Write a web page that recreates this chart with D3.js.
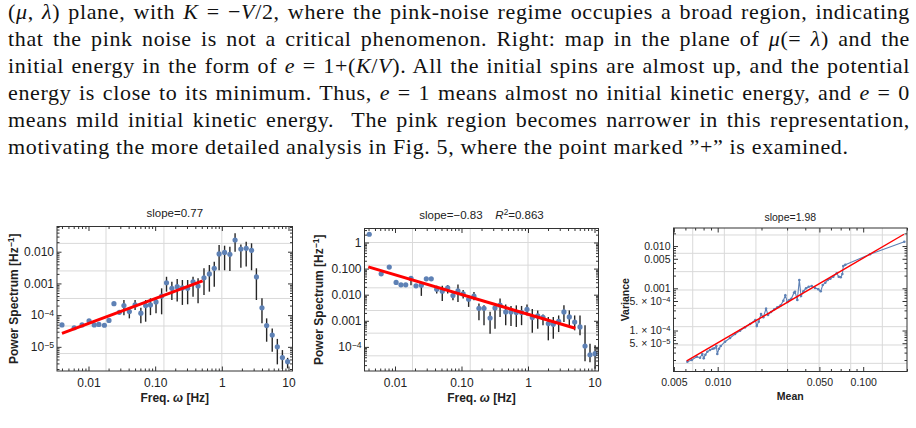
<!DOCTYPE html>
<html>
<head>
<meta charset="utf-8">
<script src="https://cdn.jsdelivr.net/npm/d3@7"></script>
<style>
  body { margin: 0; background: #fff; }
  svg { display: block; }
</style>
</head>
<body>
<svg id="drawing_region"></svg>
<script>
// ---------- caption text (italic parts flagged with 1) ----------
const paraLines = [
  [["(",0],["μ",1],[", ",0],["λ",1],[") plane, with ",0],["K",1],[" = −",0],["V",1],["/2, where the pink-noise regime occupies a broad region, indicating",0]],
  [["that the pink noise is not a critical phenomenon. Right: map in the plane of ",0],["μ",1],["(= ",0],["λ",1],[") and the",0]],
  [["initial energy in the form of ",0],["e",1],[" = 1+(",0],["K",1],["/",0],["V",1],["). All the initial spins are almost up, and the potential",0]],
  [["energy is close to its minimum. Thus, ",0],["e",1],[" = 1 means almost no initial kinetic energy, and ",0],["e",1],[" = 0",0]],
  [["means mild initial kinetic energy.  The pink region becomes narrower in this representation,",0]],
  [["motivating the more detailed analysis in Fig. 5, where the point marked ”+” is examined.",0]]
];

// ---------- left panel: power spectrum, slope 0.77 ----------
const freqA = [0.0040,0.0061,0.0080,0.0102,0.0122,0.0143,0.0173,0.0203,0.0241,0.0290,
  0.0340,0.0410,0.0500,0.0610,0.0720,0.0850,0.1030,0.1250,0.1480,0.1780,
  0.2140,0.2560,0.3070,0.3700,0.4400,0.5400,0.6500,0.7700,0.9100,1.100,
  1.320,1.580,1.930,2.320,2.790,3.300,4.000,4.700,5.700,6.800,8.100,9.700];
const powA = [4.9e-5,4.0e-5,4.9e-5,6.6e-5,4.9e-5,5.1e-5,4.8e-5,6.8e-5,2.3e-4,1.23e-4,
  2.0e-4,1.29e-4,2.1e-4,1.15e-4,2.0e-4,2.1e-4,2.6e-4,4.0e-4,1.05e-3,7.0e-4,
  7.9e-4,7.2e-4,7.0e-4,1.13e-3,8.3e-4,1.5e-3,2.0e-3,3.0e-3,8.5e-3,9.5e-3,
  8.3e-3,2.34e-2,1.22e-2,1.28e-2,1.11e-2,1.6e-3,1.7e-4,4.7e-5,2.35e-5,1.0e-5,4.6e-6,3.4e-6];
const loA = [null,null,null,null,null,null,null,null,null,null,
  1.0e-4,7.9e-5,1.45e-4,5.5e-5,6.2e-5,1.0e-4,1.15e-4,1.06e-4,5.5e-4,3.0e-4,
  2.7e-4,2.1e-4,2.2e-4,3.8e-4,2.35e-4,4.3e-4,5.5e-4,7.9e-4,2.6e-3,2.6e-3,
  2.45e-3,1.0e-2,3.1e-3,3.4e-3,2.6e-3,3.0e-4,5.5e-5,1.45e-5,7.0e-6,2.8e-6,2.0e-6,2.1e-6];
const hiA = [null,null,null,null,null,null,null,null,null,null,
  3.0e-4,1.67e-4,3.0e-4,1.7e-4,3.0e-4,3.4e-4,3.3e-4,7.0e-4,1.62e-3,1.13e-3,
  1.38e-3,1.28e-3,1.28e-3,1.62e-3,1.45e-3,3.0e-3,3.8e-3,4.8e-3,1.63e-2,1.55e-2,
  1.44e-2,3.8e-2,1.7e-2,2.07e-2,1.84e-2,3.0e-3,3.4e-4,7.9e-5,3.8e-5,1.78e-5,7.9e-6,4.5e-6];
const fitAx = [0.0040, 0.515];
const fitAy = [2.67e-5, 1.2e-3];

// ---------- middle panel: power spectrum, slope -0.83 ----------
const freqB = [0.0041,0.0062,0.0082,0.0104,0.0123,0.0145,0.0174,0.0207,0.0249,0.0296,
  0.0351,0.0424,0.0514,0.062,0.0744,0.0885,0.106,0.128,0.154,0.183,
  0.218,0.269,0.319,0.38,0.462,0.555,0.667,0.80,0.966,1.16,
  1.40,1.68,2.02,2.40,2.89,3.47,4.18,5.03,6.05,7.2,8.55,10.2];
const powB = [2.07,0.063,0.114,0.0294,0.0238,0.0238,0.042,0.0218,0.0232,0.0405,
  0.0405,0.0163,0.0136,0.0183,0.0093,0.014,0.0107,0.0067,0.00875,0.0030,
  0.0030,0.00128,0.0031,0.00395,0.00218,0.00218,0.00207,0.00207,0.00277,0.00133,
  0.00153,0.00136,7.8e-4,7.3e-4,9.6e-4,0.00218,0.0014,9.0e-4,5.8e-4,1.07e-4,5.0e-5,5.5e-5];
const loB = [null,null,null,null,null,null,0.023,null,0.009,null,
  null,0.0111,0.00578,0.0111,0.0061,0.00528,0.00714,0.0034,0.0061,0.00105,
  6.8e-4,3.2e-4,5.0e-4,0.0014,6.8e-4,6.3e-4,5.8e-4,6.8e-4,0.0016,3.5e-4,
  5.0e-4,6.8e-4,1.78e-4,2.07e-4,3.7e-4,9.0e-4,6.8e-4,4.3e-4,2.8e-4,2.8e-5,2.6e-5,1.45e-5];
const hiB = [null,null,null,null,null,null,0.0515,null,0.0232,null,
  null,0.0218,0.0218,0.0232,0.0128,0.0247,0.015,0.0096,0.0128,0.0046,
  0.0039,0.0022,0.0046,0.0071,0.0042,0.0037,0.0039,0.0037,0.0042,0.0028,
  0.0025,0.00173,0.0014,0.0014,0.0016,0.0039,0.0025,0.0016,0.0016,6.8e-4,1.32e-4,1.15e-4];
const fitBx = [0.00397, 5.14];
const fitBy = [0.117, 5.15e-4];

// ---------- right panel: variance vs mean, slope 1.98 ----------
const meanC = [0.00619,0.00663,0.00718,0.00756,0.00784,0.00802,0.00823,0.00849,0.00886,0.00924,
  0.00949,0.00979,0.00994,0.01021,0.01049,0.01123,0.01216,0.01316,0.01424,0.01542,
  0.0167,0.01815,0.01856,0.01914,0.01986,0.0206,0.0215,0.02217,0.02326,0.0245,
  0.0257,0.0271,0.02826,0.02916,0.0301,0.03106,0.03207,0.03347,0.034,0.03526,
  0.0364,0.0374,0.03878,0.04047,0.04222,0.04429,0.04666,0.04915,0.05105,0.0527,
  0.0549,0.05704,0.05943,0.0623,0.0658,0.0679,0.0701,0.0719,0.073,0.0754,0.1114,0.1917];
const varC = [1.83e-5,2.0e-5,2.40e-5,2.27e-5,2.78e-5,2.20e-5,2.67e-5,3.15e-5,3.46e-5,3.71e-5,
  3.79e-5,4.30e-5,2.78e-5,3.71e-5,4.30e-5,5.43e-5,6.65e-5,8.27e-5,9.90e-5,1.19e-4,
  1.43e-4,1.77e-4,1.28e-4,1.62e-4,2.46e-4,2.06e-4,3.29e-4,2.33e-4,2.75e-4,3.18e-4,
  3.55e-4,3.96e-4,5.08e-4,6.83e-4,4.74e-4,5.28e-4,5.67e-4,7.87e-4,8.31e-4,5.28e-4,
  1.574e-3,6.58e-4,8.49e-4,1.0e-3,1.09e-3,1.13e-3,1.02e-3,9.47e-4,8.49e-4,1.198e-3,
  1.358e-3,1.574e-3,1.689e-3,1.884e-3,2.268e-3,1.884e-3,1.824e-3,2.183e-3,3.377e-3,3.625e-3,6.40e-3,1.271e-2];
const fitCx = [0.00613, 0.1907];
const fitCy = [1.9e-5, 0.01905];

// ---------- ticks and labels ----------
const ticksAx = [0.01, 0.1, 1, 10];
const labelsAx = ['0.01', '0.10', '1', '10'];
const ticksAy = [0.01, 0.001, 1e-4, 1e-5];
const labelsAy = ['0.010', '0.001', '10^−4', '10^−5'];
const ticksBy = [1, 0.1, 0.01, 0.001, 1e-4];
const labelsBy = ['1', '0.100', '0.010', '0.001', '10^−4'];
const ticksCx = [0.005, 0.01, 0.05, 0.1];
const labelsCx = ['0.005', '0.010', '0.050', '0.100'];
const ticksCy = [0.01, 0.005, 0.001, 5e-4, 1e-4, 5e-5];
const labelsCy = ['0.010', '0.005', '0.001', '5. × 10^−4', '1. × 10^−4', '5. × 10^−5'];

// grid lines sit at powers of e (exponents)
const gridAx = [-4, -2, 0];
const gridAy = [-12, -10, -8, -6, -4];
const gridBx = [-4, -2, 0];
const gridBy = [-10, -8, -6, -4, -2, 0];
const gridCx = [-5, -4.5, -4, -3.5, -3, -2.5, -2];
const gridCy = [-11, -10, -9, -8, -7, -6, -5, -4];

const BLUE = '#5e81b5';
const svg = d3.select('#drawing_region').attr('width', 916).attr('height', 428);

// ---------- caption ----------
const paraBase = [18.5, 45.5, 72.5, 99.5, 126.5, 153.5];
const para = svg.append('g')
  .attr('font-family', '"Liberation Serif", "Times New Roman", serif')
  .attr('font-size', 22)
  .attr('fill', '#111');
const paraNodes = paraLines.map((segs, i) => {
  const t = para.append('text').attr('x', 8).attr('y', paraBase[i]).style('white-space', 'pre');
  segs.forEach(s => t.append('tspan').attr('font-style', s[1] ? 'italic' : null).text(s[0]));
  return t;
});
{
  const lastI = paraLines.length - 1;
  const lastStr = paraLines[lastI].map(s => s[0]).join('');
  const ls = (840 - paraNodes[lastI].node().getBBox().width) / (lastStr.length - 1);
  paraNodes.forEach(t => t.attr('letter-spacing', ls));
  paraNodes.forEach((t, i) => {
    if (i === lastI) return;
    const str = paraLines[i].map(s => s[0]).join('');
    const spaces = str.split(' ').length - 1;
    const w = t.node().getBBox().width;
    t.attr('word-spacing', (902 - w) / spaces);
  });
}

// rich text helper: segments {t, sup, it}
function richText(sel, segs, supShift) {
  let shifted = false;
  segs.forEach(s => {
    const ts = sel.append('tspan').text(s.t);
    if (s.it) ts.attr('font-style', 'italic');
    if (s.sup) { ts.attr('font-size', '0.72em').attr('dy', -supShift); shifted = true; }
    else if (shifted) { ts.attr('dy', supShift); shifted = false; }
  });
}

class LogPanel {
  constructor(config, data) {
    this.config = config;
    this.data = data;
    this.init();
  }
  init() {
    let self = this;
    const c = self.config;
    self.chart = svg.append('g').attr('transform', `translate(${c.left}, ${c.top})`);
    self.xscale = d3.scaleLog().domain(c.xDomain).range([0, c.width]);
    self.yscale = d3.scaleLog().domain(c.yDomain).range([c.height, 0]);
  }
  render() {
    let self = this;
    const c = self.config, d = self.data;
    const x = self.xscale, y = self.yscale;

    // grid
    const grid = self.chart.append('g').attr('stroke', '#d9d9d9').attr('stroke-width', 1);
    grid.selectAll('.gx').data(d.gridX).enter().append('line')
      .attr('x1', k => x(Math.exp(k))).attr('x2', k => x(Math.exp(k)))
      .attr('y1', 0).attr('y2', c.height);
    grid.selectAll('.gy').data(d.gridY).enter().append('line')
      .attr('y1', k => y(Math.exp(k))).attr('y2', k => y(Math.exp(k)))
      .attr('x1', 0).attr('x2', c.width);

    if (d.joined) {
      const line = d3.line().x(p => x(p.x)).y(p => y(p.y));
      self.chart.append('path').attr('d', line(d.points))
        .attr('fill', 'none').attr('stroke', BLUE).attr('stroke-width', 1.1);
      self.chart.selectAll('circle.pt').data(d.points).enter().append('circle')
        .attr('cx', p => x(p.x)).attr('cy', p => y(p.y)).attr('r', 1.3).attr('fill', BLUE);
    } else {
      self.chart.selectAll('line.err').data(d.points.filter(p => p.lo !== null)).enter().append('line')
        .attr('x1', p => x(p.x)).attr('x2', p => x(p.x))
        .attr('y1', p => y(p.lo)).attr('y2', p => y(p.hi))
        .attr('stroke', '#262626').attr('stroke-width', 1.4);
      self.chart.selectAll('circle.pt').data(d.points).enter().append('circle')
        .attr('cx', p => x(p.x)).attr('cy', p => y(p.y)).attr('r', 2.6).attr('fill', BLUE);
    }

    // fitted line
    const fit = d.fitX.map((v, i) => ({x: v, y: d.fitY[i]}));
    self.chart.append('path')
      .attr('d', d3.line().x(p => x(p.x)).y(p => y(p.y))(fit))
      .attr('stroke', '#ff0000').attr('stroke-width', c.fitWidth).attr('fill', 'none');

    // frame
    self.chart.append('rect').attr('width', c.width).attr('height', c.height)
      .attr('fill', 'none').attr('stroke', '#333').attr('stroke-width', 1);

    const minorX = x.ticks().filter(v => !d.ticksX.some(t => Math.abs(t - v) / t < 1e-6));
    const minorY = y.ticks().filter(v => !d.ticksY.some(t => Math.abs(t - v) / t < 1e-6));
    const noDomain = g => g.select('.domain').remove();
    const axisStyle = g => g.attr('color', '#333').attr('font-family', '"Liberation Sans", Arial, sans-serif')
      .attr('font-size', c.tickFont);

    const addAxis = (gen, tx, ty, vals, size, labels, pad) => {
      const a = gen.tickValues(vals).tickSizeInner(-size).tickSizeOuter(0).tickPadding(pad || 3)
        .tickFormat(labels ? ((v, i) => labels[i]) : '');
      const g = self.chart.append('g').attr('transform', `translate(${tx}, ${ty})`).call(a).call(noDomain).call(axisStyle);
      g.selectAll('.tick text').attr('fill', '#222').each(function() {
        const s = d3.select(this), txt = s.text();
        if (txt.includes('^')) {
          const parts = txt.split('^');
          s.text(parts[0]);
          s.append('tspan').attr('dy', '-0.42em').attr('font-size', '0.72em').text(parts[1]);
        }
      });
      return g;
    };
    addAxis(d3.axisBottom(x), 0, c.height, d.ticksX, 4.5, d.labelsX, c.xPad);
    addAxis(d3.axisBottom(x), 0, c.height, minorX, 2.5, null);
    addAxis(d3.axisTop(x), 0, 0, d.ticksX, 4.5, null);
    addAxis(d3.axisTop(x), 0, 0, minorX, 2.5, null);
    addAxis(d3.axisLeft(y), 0, 0, d.ticksY, 4.5, d.labelsY, c.yPad);
    addAxis(d3.axisLeft(y), 0, 0, minorY, 2.5, null);
    addAxis(d3.axisRight(y), c.width, 0, d.ticksY, 4.5, null);
    addAxis(d3.axisRight(y), c.width, 0, minorY, 2.5, null);

    // titles
    const font = '"Liberation Sans", Arial, sans-serif';
    const title = self.chart.append('text').attr('x', c.width / 2).attr('y', c.titleY)
      .attr('text-anchor', 'middle').attr('font-family', font).attr('font-size', c.titleFont)
      .attr('fill', '#222').style('white-space', 'pre');
    richText(title, d.title, 4);

    const xl = self.chart.append('text').attr('x', c.width / 2).attr('y', c.xLabelY)
      .attr('text-anchor', 'middle').attr('font-family', font).attr('font-weight', 'bold')
      .attr('font-size', c.labelFont).attr('fill', '#222');
    richText(xl, d.xLabel, 4);

    const yl = self.chart.append('text')
      .attr('transform', `translate(${c.yLabelX}, ${c.height / 2}) rotate(-90)`)
      .attr('text-anchor', 'middle').attr('font-family', font).attr('font-weight', 'bold')
      .attr('font-size', c.labelFont).attr('fill', '#222');
    richText(yl, d.yLabel, 4);
  }
}

const rows = (xs, ys, lo, hi) => xs.map((v, i) => ({x: v, y: ys[i], lo: lo ? lo[i] : null, hi: hi ? hi[i] : null}));
const psLabel = [{t: 'Power Spectrum [Hz'}, {t: '−1', sup: true}, {t: ']'}];
const freqLabel = [{t: 'Freq. '}, {t: 'ω', it: true}, {t: ' [Hz]'}];

const panelA = new LogPanel(
  {left: 57, top: 226.5, width: 235.5, height: 144.5, xDomain: [0.00337, 11.48], yDomain: [1.73e-6, 0.0624],
   fitWidth: 3, tickFont: 12, titleFont: 11.5, labelFont: 12, titleY: -9.5, xLabelY: 175.5, yLabelX: -39.5, xPad: 7, yPad: 3},
  {points: rows(freqA, powA, loA, hiA), fitX: fitAx, fitY: fitAy, ticksX: ticksAx, labelsX: labelsAx,
   ticksY: ticksAy, labelsY: labelsAy, gridX: gridAx, gridY: gridAy,
   title: [{t: 'slope=0.77'}], xLabel: freqLabel, yLabel: psLabel});
panelA.render();

const panelB = new LogPanel(
  {left: 364.5, top: 228.5, width: 234, height: 142.5, xDomain: [0.00348, 11.48], yDomain: [1.19e-5, 3.44],
   fitWidth: 3, tickFont: 12, titleFont: 11.5, labelFont: 12, titleY: -9.5, xLabelY: 173.5, yLabelX: -42, xPad: 7, yPad: 3},
  {points: rows(freqB, powB, loB, hiB), fitX: fitBx, fitY: fitBy, ticksX: ticksAx, labelsX: labelsAx,
   ticksY: ticksBy, labelsY: labelsBy, gridX: gridBx, gridY: gridBy,
   title: [{t: 'slope=−0.83    '}, {t: 'R', it: true}, {t: '2', sup: true}, {t: '=0.863'}], xLabel: freqLabel, yLabel: psLabel});
panelB.render();

const panelC = new LogPanel(
  {left: 673.5, top: 228, width: 233.5, height: 143.5, xDomain: [0.00497, 0.2], yDomain: [1.07e-5, 0.0268],
   fitWidth: 1.4, tickFont: 10.5, titleFont: 10.5, labelFont: 10.5, titleY: -7, xLabelY: 171.5, yLabelX: -44.5, xPad: 7, yPad: 3},
  {points: rows(meanC, varC), joined: true, fitX: fitCx, fitY: fitCy, ticksX: ticksCx, labelsX: labelsCx,
   ticksY: ticksCy, labelsY: labelsCy, gridX: gridCx, gridY: gridCy,
   title: [{t: 'slope=1.98'}], xLabel: [{t: 'Mean'}], yLabel: [{t: 'Variance'}]});
panelC.render();
</script>
</body>
</html>
